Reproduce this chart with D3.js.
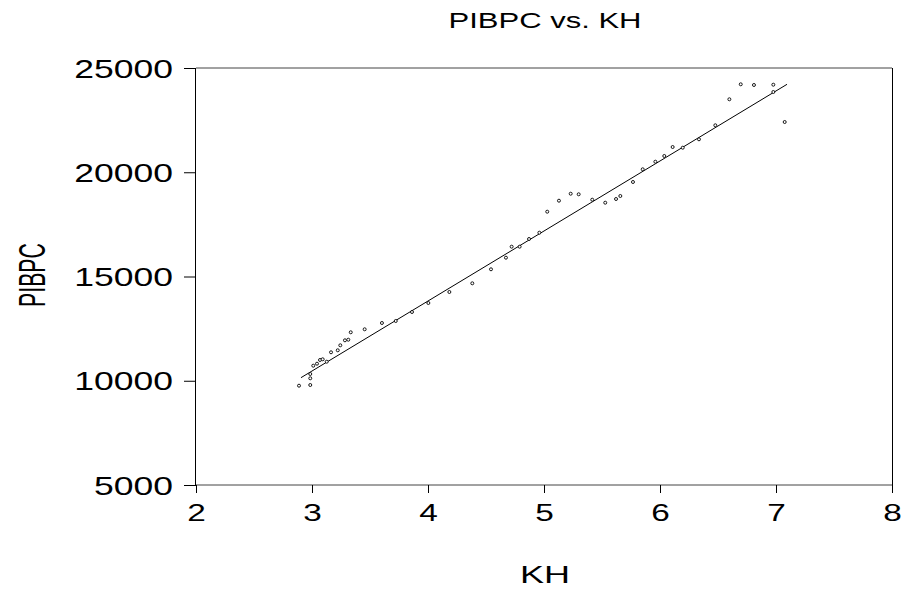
<!DOCTYPE html>
<html><head><meta charset="utf-8">
<script src="https://cdn.jsdelivr.net/npm/d3@7"></script>
<style>body{margin:0;background:#fff;} svg{display:block;}</style>
</head><body>
<svg id="c" width="906" height="591"></svg>
<script>
const kh = [2.888,2.985,2.985,2.985,3.011,3.043,3.069,3.092,3.127,3.164,3.222,3.244,3.284,3.313,3.334,3.454,3.603,3.722,3.862,4.003,4.184,4.382,4.543,4.672,4.721,4.790,4.871,4.960,5.028,5.129,5.230,5.299,5.416,5.528,5.621,5.658,5.767,5.851,5.960,6.037,6.109,6.196,6.336,6.477,6.598,6.696,6.810,6.977,6.977,7.075];
const pibpc = [9763,9796,10117,10324,10722,10818,10996,11029,10914,11365,11461,11700,11940,11969,12324,12468,12770,12866,13298,13729,14257,14674,15346,15902,16430,16430,16799,17101,18108,18636,18971,18943,18684,18540,18717,18861,19533,20142,20506,20780,21211,21178,21580,22252,23499,24218,24185,24199,23849,22410];
const fitKH = [2.905, 7.095];
const fitPIBPC = [10147, 24218];
const xTicks = [2,3,4,5,6,7,8];
const yTicks = [5000,10000,15000,20000,25000];
const title = "PIBPC vs. KH";
const xLabel = "KH";
const yLabel = "PIBPC";

const svg = d3.select("#c");
const L = 196, R = 892, T = 68, B = 485;
const x = d3.scaleLinear().domain([2,8]).range([L,R]);
const y = d3.scaleLinear().domain([5000,25000]).range([B,T]);
const FONT = "Liberation Sans, Arial, sans-serif";

function stretch(sel, k){
  sel.each(function(){
    const w = this.getComputedTextLength();
    d3.select(this).attr("textLength", w*k).attr("lengthAdjust","spacingAndGlyphs");
  });
}

// frame
svg.append("line").attr("x1",L-0.5).attr("x2",L-0.5).attr("y1",T).attr("y2",B).attr("stroke","#000");
svg.append("line").attr("x1",R+0.5).attr("x2",R+0.5).attr("y1",T).attr("y2",B).attr("stroke","#000");
svg.append("line").attr("x1",L).attr("x2",R).attr("y1",T).attr("y2",T).attr("stroke","#444");
svg.append("line").attr("x1",L).attr("x2",R).attr("y1",B).attr("y2",B).attr("stroke","#444");

// axes
const xAxis = svg.append("g").attr("transform",`translate(0,${B})`)
  .call(d3.axisBottom(x).tickValues(xTicks).tickSize(8).tickPadding(6).tickFormat(d3.format("d")));
const yAxis = svg.append("g").attr("transform",`translate(${L},0)`)
  .call(d3.axisLeft(y).tickValues(yTicks).tickSize(12).tickPadding(11).tickFormat(d3.format("d")));
[xAxis,yAxis].forEach(g=>{
  g.select(".domain").remove();
  g.selectAll(".tick line").attr("stroke","#000");
  g.selectAll(".tick text").attr("fill","#000").attr("font-family",FONT);
});
xAxis.selectAll(".tick text").attr("font-size",23).attr("dy","0.95em");
yAxis.selectAll(".tick text").attr("font-size",25).attr("dy","0.36em");
stretch(xAxis.selectAll(".tick text"),1.45);
stretch(yAxis.selectAll(".tick text"),1.42);

// fitted line
svg.append("line")
  .attr("x1",x(fitKH[0])).attr("y1",y(fitPIBPC[0]))
  .attr("x2",x(fitKH[1])).attr("y2",y(fitPIBPC[1]))
  .attr("stroke","#000").attr("stroke-width",1);

// points
svg.append("g").selectAll("circle").data(kh).join("circle")
  .attr("cx",(d)=>x(d)).attr("cy",(d,i)=>y(pibpc[i]))
  .attr("r",1.5).attr("fill","#fff").attr("stroke","#000").attr("stroke-width",0.9);

// title
const t = svg.append("text").attr("x",545).attr("y",28).attr("text-anchor","middle")
  .attr("font-family",FONT).attr("font-size",22).attr("fill","#000").text(title);
stretch(t,1.41);
const xl = svg.append("text").attr("x",545).attr("y",583).attr("text-anchor","middle")
  .attr("font-family",FONT).attr("font-size",24).attr("fill","#000").text(xLabel);
stretch(xl,1.5);
const yl = svg.append("text").attr("transform","translate(45,275) rotate(-90)").attr("text-anchor","middle")
  .attr("font-family",FONT).attr("font-size",36).attr("fill","#000").text(yLabel);
yl.attr("textLength",64).attr("lengthAdjust","spacingAndGlyphs");
</script>
</body></html>
